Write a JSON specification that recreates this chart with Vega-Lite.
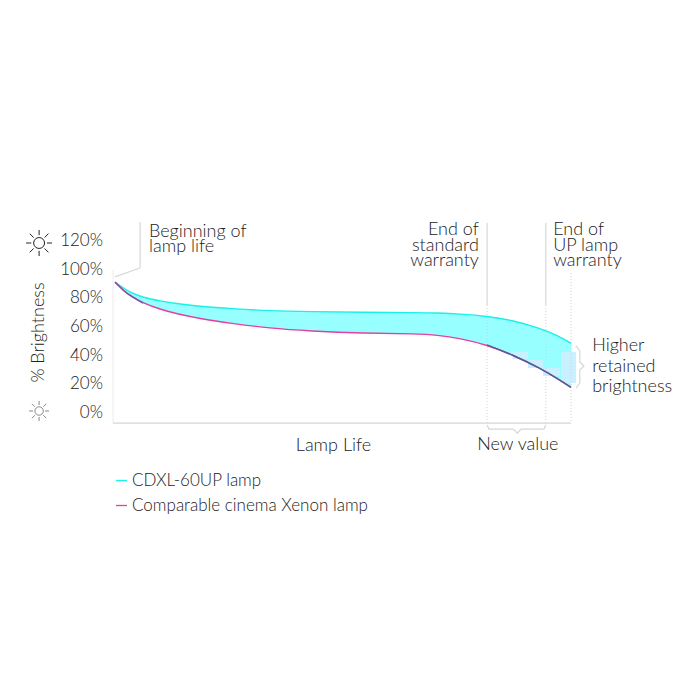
{
"$schema":"https://vega.github.io/schema/vega-lite/v6.json",
"autosize":{"type":"none"},
"padding":{"left":113,"top":241,"right":128,"bottom":277},
"width":459,"height":182,
"background":"white",
"config":{"view":{"stroke":null},"text":{"font":"Lato","fontSize":18,"fontWeight":300,"color":"#222222"}},
"datasets":{
"curves":[
{"life":0.44,"CDXL-60UP lamp":91.4,"Comparable cinema Xenon lamp":91.2},
{"life":0.44,"CDXL-60UP lamp":91.4,"Comparable cinema Xenon lamp":91.2},
{"life":2.18,"CDXL-60UP lamp":87.4,"Comparable cinema Xenon lamp":85.8},
{"life":3.7,"CDXL-60UP lamp":84.2,"Comparable cinema Xenon lamp":81.9},
{"life":6.54,"CDXL-60UP lamp":80.5,"Comparable cinema Xenon lamp":76.6},
{"life":10.24,"CDXL-60UP lamp":78.2,"Comparable cinema Xenon lamp":72.4},
{"life":13.94,"CDXL-60UP lamp":76.3,"Comparable cinema Xenon lamp":69.1},
{"life":19.61,"CDXL-60UP lamp":74.2,"Comparable cinema Xenon lamp":65.4},
{"life":25.49,"CDXL-60UP lamp":72.9,"Comparable cinema Xenon lamp":62.7},
{"life":34.2,"CDXL-60UP lamp":71.2,"Comparable cinema Xenon lamp":59.1},
{"life":42.92,"CDXL-60UP lamp":70.7,"Comparable cinema Xenon lamp":57.2},
{"life":54.47,"CDXL-60UP lamp":70.3,"Comparable cinema Xenon lamp":55.6},
{"life":66.23,"CDXL-60UP lamp":70,"Comparable cinema Xenon lamp":55.3},
{"life":70.59,"CDXL-60UP lamp":69.8,"Comparable cinema Xenon lamp":54.4},
{"life":75.6,"CDXL-60UP lamp":69.1,"Comparable cinema Xenon lamp":52.1},
{"life":81.48,"CDXL-60UP lamp":67.6,"Comparable cinema Xenon lamp":47.5},
{"life":87.15,"CDXL-60UP lamp":64.6,"Comparable cinema Xenon lamp":40.5},
{"life":93.03,"CDXL-60UP lamp":59.1,"Comparable cinema Xenon lamp":31.2},
{"life":96.73,"CDXL-60UP lamp":54.4,"Comparable cinema Xenon lamp":24.2},
{"life":99.78,"CDXL-60UP lamp":48.6,"Comparable cinema Xenon lamp":17.9},
{"life":99.78,"CDXL-60UP lamp":48.6,"Comparable cinema Xenon lamp":17.9}
],
"patches":[
{"a":87.1,"b":90.4,"c":42.6,"d":37.7},
{"a":90.4,"b":93.7,"c":37,"d":31.4},
{"a":93.7,"b":97.4,"c":31.4,"d":25.8},
{"a":97.6,"b":100.9,"c":42.6,"d":20.9}
],
"solidRules":[
{"a":81.5,"c":132.6,"d":75.4},
{"a":94.3,"c":132.6,"d":75.4},
{"a":5.9,"c":133.3,"d":101.2}
],
"dottedRules":[
{"a":81.5,"c":75.4,"d":-7},
{"a":94.3,"c":75.4,"d":-7},
{"a":99.8,"c":97.7,"d":-7}
],
"faint":[{"a":0,"c":100,"d":-7}],
"guides":[
{"g":"lead","o":1,"a":5.9,"v":101.2},{"g":"lead","o":2,"a":0.4,"v":95},
{"g":"bottom","o":1,"a":99.8,"v":-7},{"g":"bottom","o":2,"a":0,"v":-7},
{"g":"newvalue","o":1,"a":81.5,"v":-8.4},{"g":"newvalue","o":2,"a":81.9,"v":-11.2},{"g":"newvalue","o":3,"a":87.2,"v":-11.2},{"g":"newvalue","o":4,"a":88.1,"v":-14},{"g":"newvalue","o":5,"a":88.9,"v":-11.2},{"g":"newvalue","o":6,"a":93.9,"v":-11.2},{"g":"newvalue","o":7,"a":94.3,"v":-8.4},
{"g":"retained","o":1,"a":100.9,"v":46.8},{"g":"retained","o":2,"a":101.7,"v":43.3},{"g":"retained","o":3,"a":101.7,"v":35.6},{"g":"retained","o":4,"a":102.6,"v":32.8},{"g":"retained","o":5,"a":101.7,"v":30},{"g":"retained","o":6,"a":101.7,"v":20.9},{"g":"retained","o":7,"a":100.9,"v":17.4}
],
"leftText":[
{"t":"Beginning of","a":7.84,"v":126.3},{"t":"lamp life","a":7.84,"v":115.8},
{"t":"End of","a":95.9,"v":127.7},{"t":"UP lamp","a":95.9,"v":116.5},{"t":"warranty","a":95.9,"v":106.1},
{"t":"Higher","a":104.4,"v":46.8},{"t":"retained","a":104.4,"v":32.1},{"t":"brightness","a":104.4,"v":18.1}
],
"rightText":[
{"t":"End of","a":79.7,"v":127.7},{"t":"standard","a":79.7,"v":116.5},{"t":"warranty","a":79.7,"v":106.1}
],
"centerText":[{"t":"New value","a":88.2,"v":-22.3}],
"tickText":[
{"t":"0%","a":-2.18,"v":0},{"t":"20%","a":-2.18,"v":20},{"t":"40%","a":-2.18,"v":40},{"t":"60%","a":-2.18,"v":60},{"t":"80%","a":-2.18,"v":80},{"t":"100%","a":-2.18,"v":100},{"t":"120%","a":-2.18,"v":120}
],
"suns":[{"a":-16.1,"v":118.6,"level":"high"},{"a":-16.1,"v":1.4,"level":"low"}]
},
"layer":[
{"data":{"name":"curves"},"mark":{"type":"area","interpolate":"basis","color":"#97ffff"},
 "encoding":{
  "x":{"field":"life","type":"quantitative","scale":{"domain":[0,100],"nice":false},"title":"Lamp Life","axis":{"values":[],"domain":false,"ticks":false,"labels":false,"grid":false,"titleFont":"Lato","titleFontSize":18,"titleFontWeight":300,"titleColor":"#222222","titleX":220,"titleY":22,"titleAlign":"center","titleBaseline":"middle"}},
  "y":{"field":"CDXL-60UP lamp","type":"quantitative","scale":{"domain":[-6.98,120],"nice":false},"title":"% Brightness","axis":{"values":[],"labels":false,"domain":false,"ticks":false,"grid":false,"titleFont":"Lato","titleFontSize":18,"titleFontWeight":300,"titleColor":"#222222","titleX":-75,"titleY":91,"titleAngle":-90,"titleAlign":"center","titleBaseline":"middle"}},
  "y2":{"field":"Comparable cinema Xenon lamp"}
 }},
{"data":{"name":"patches"},"mark":{"type":"rect","color":"#c8f0ff"},
 "encoding":{"x":{"field":"a","type":"quantitative","title":"Lamp Life"},"x2":{"field":"b"},"y":{"field":"c","type":"quantitative","title":"% Brightness"},"y2":{"field":"d"}}},
{"data":{"name":"faint"},"mark":{"type":"rule","color":"#ececec","strokeWidth":1},
 "encoding":{"x":{"field":"a","type":"quantitative","title":"Lamp Life"},"y":{"field":"c","type":"quantitative","title":"% Brightness"},"y2":{"field":"d"}}},
{"data":{"name":"solidRules"},"mark":{"type":"rule","color":"#cfcfcf","strokeWidth":1},
 "encoding":{"x":{"field":"a","type":"quantitative","title":"Lamp Life"},"y":{"field":"c","type":"quantitative","title":"% Brightness"},"y2":{"field":"d"}}},
{"data":{"name":"dottedRules"},"mark":{"type":"rule","color":"#d0d0d0","strokeWidth":1,"strokeDash":[1,2]},
 "encoding":{"x":{"field":"a","type":"quantitative","title":"Lamp Life"},"y":{"field":"c","type":"quantitative","title":"% Brightness"},"y2":{"field":"d"}}},
{"data":{"name":"guides"},"mark":{"type":"line","color":"#d6d6d6","strokeWidth":1.2},
 "encoding":{"x":{"field":"a","type":"quantitative","title":"Lamp Life"},"y":{"field":"v","type":"quantitative","title":"% Brightness"},"detail":{"field":"g"},"order":{"field":"o","type":"quantitative"}}},
{"data":{"name":"curves"},"transform":[{"fold":["CDXL-60UP lamp","Comparable cinema Xenon lamp"],"as":["series","value"]}],
 "mark":{"type":"line","interpolate":"basis","strokeWidth":1.4},
 "encoding":{"x":{"field":"life","type":"quantitative","title":"Lamp Life"},"y":{"field":"value","type":"quantitative","title":"% Brightness"},
  "color":{"field":"series","type":"nominal","scale":{"domain":["CDXL-60UP lamp","Comparable cinema Xenon lamp"],"range":["#19f0e8","#e23fa2"]},
   "legend":{"title":null,"orient":"none","legendX":0,"legendY":231,"symbolType":"stroke","symbolSize":120,"symbolStrokeWidth":1.3,"labelFont":"Lato","labelFontSize":17,"labelFontWeight":300,"labelColor":"#222222","labelOffset":2,"rowPadding":7,"labelLimit":400}}}},
{"data":{"name":"curves"},"transform":[{"filter":"datum.life >= 81"}],"mark":{"type":"line","interpolate":"basis","strokeWidth":1.4,"color":"#4f5f94"},
 "encoding":{"x":{"field":"life","type":"quantitative","title":"Lamp Life"},"y":{"field":"Comparable cinema Xenon lamp","type":"quantitative","title":"% Brightness"}}},
{"data":{"name":"curves"},"transform":[{"filter":"datum.life <= 6.6"}],"mark":{"type":"line","interpolate":"basis","strokeWidth":1.4,"color":"#6f5aa5"},
 "encoding":{"x":{"field":"life","type":"quantitative","title":"Lamp Life"},"y":{"field":"Comparable cinema Xenon lamp","type":"quantitative","title":"% Brightness"}}},
{"data":{"name":"leftText"},"mark":{"type":"text","align":"left","baseline":"middle"},
 "encoding":{"x":{"field":"a","type":"quantitative","title":"Lamp Life"},"y":{"field":"v","type":"quantitative","title":"% Brightness"},"text":{"field":"t"}}},
{"data":{"name":"rightText"},"mark":{"type":"text","align":"right","baseline":"middle"},
 "encoding":{"x":{"field":"a","type":"quantitative","title":"Lamp Life"},"y":{"field":"v","type":"quantitative","title":"% Brightness"},"text":{"field":"t"}}},
{"data":{"name":"tickText"},"mark":{"type":"text","align":"right","baseline":"middle","fontSize":17},
 "encoding":{"x":{"field":"a","type":"quantitative","title":"Lamp Life"},"y":{"field":"v","type":"quantitative","title":"% Brightness"},"text":{"field":"t"}}},
{"data":{"name":"centerText"},"mark":{"type":"text","align":"center","baseline":"middle"},
 "encoding":{"x":{"field":"a","type":"quantitative","title":"Lamp Life"},"y":{"field":"v","type":"quantitative","title":"% Brightness"},"text":{"field":"t"}}},
{"data":{"name":"suns"},"mark":{"type":"point","filled":false,"strokeWidth":1,"shape":"M0.42,0A0.42,0.42 0 1 1 -0.42,0A0.42,0.42 0 1 1 0.42,0ZM0.6,0L1,0M-0.6,0L-1,0M0,0.6L0,1M0,-0.6L0,-1M0.42,0.42L0.72,0.72M-0.42,0.42L-0.72,0.72M0.42,-0.42L0.72,-0.72M-0.42,-0.42L-0.72,-0.72","opacity":1},
 "encoding":{"x":{"field":"a","type":"quantitative","title":"Lamp Life"},"y":{"field":"v","type":"quantitative","title":"% Brightness"},
  "size":{"field":"level","type":"nominal","scale":{"domain":["high","low"],"range":[676,400]},"legend":null},
  "stroke":{"field":"level","type":"nominal","scale":{"domain":["high","low"],"range":["#222222","#888888"]},"legend":null}}}
],
"resolve":{"scale":{"color":"independent"}}
}
